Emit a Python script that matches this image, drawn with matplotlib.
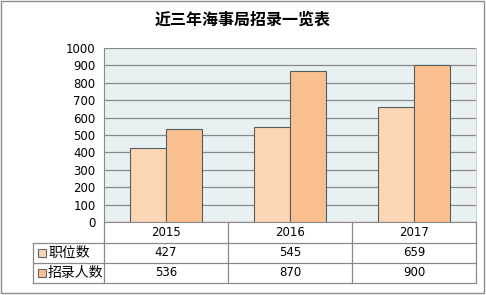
import matplotlib
matplotlib.use('Agg')
import matplotlib.pyplot as plt
from matplotlib.patches import Rectangle
from matplotlib.lines import Line2D
import numpy as np

plt.rcParams['font.family'] = ['Noto Sans CJK SC', 'DejaVu Sans']

title = '近三年海事局招录一览表'
years = ['2015', '2016', '2017']
series_names = ['职位数', '招录人数']
positions = [427, 545, 659]
hires = [536, 870, 900]
yticks = list(range(0, 1001, 100))

colors = ['#FCD5B5', '#FAC08F']
edge = '#4F5F60'

W, H = 486, 295
fig = plt.figure(figsize=(W / 100, H / 100), dpi=100)

def fx(px):
    return px / W

def fy(py):
    return 1 - py / H

# figure border
fig.add_artist(Rectangle((fx(1), fy(293)), fx(483), 292 / H, transform=fig.transFigure,
                         fill=False, edgecolor='#8C8C8C', lw=1))

# plot area
left, right, top, bottom = 104, 476, 48, 222
ax = fig.add_axes([fx(left), fy(bottom), fx(right - left), (bottom - top) / H])
ax.set_facecolor('#E9F0F2')
x = np.arange(len(years))
w = 0.29
ax.bar(x - w / 2, positions, w, color=colors[0], edgecolor=edge, lw=0.8, zorder=3)
ax.bar(x + w / 2, hires, w, color=colors[1], edgecolor=edge, lw=0.8, zorder=3)
ax.set_xlim(-0.5, len(years) - 0.5)
ax.set_ylim(0, 1000)
ax.set_yticks(yticks)
ax.set_yticklabels([str(v) for v in yticks], fontsize=8.5, family='DejaVu Sans')
ax.tick_params(axis='y', length=0, pad=6)
ax.set_xticks([])
ax.grid(axis='y', color='#8A8A8A', lw=0.9, zorder=1)
for s in ['top', 'right', 'left']:
    ax.spines[s].set_visible(False)
ax.spines['left'].set_visible(True)
ax.spines['left'].set_color('#8A8A8A')
ax.spines['bottom'].set_color('#8A8A8A')
ax.spines['right'].set_visible(True)
ax.spines['right'].set_color('#C8D4D8')

fig.text(0.5, fy(20), title, ha='center', va='center', fontsize=11.5, fontweight='bold')

# data table
col_edges = [left + i * (right - left) / len(years) for i in range(len(years) + 1)]
row_edges = [222, 243, 263, 283]
tbl_left = 33
lc = '#8A8A8A'

def hline(y, x0, x1):
    fig.add_artist(Line2D([fx(x0), fx(x1)], [fy(y), fy(y)], transform=fig.transFigure, color=lc, lw=0.9))

def vline(xp, y0, y1):
    fig.add_artist(Line2D([fx(xp), fx(xp)], [fy(y0), fy(y1)], transform=fig.transFigure, color=lc, lw=0.9))

hline(row_edges[1], tbl_left, right)
hline(row_edges[2], tbl_left, right)
hline(row_edges[3], tbl_left, right)
vline(tbl_left, row_edges[1], row_edges[3])
for c in col_edges:
    vline(c, row_edges[0], row_edges[3])

for i, yr in enumerate(years):
    cx = (col_edges[i] + col_edges[i + 1]) / 2
    fig.text(fx(cx), fy((row_edges[0] + row_edges[1]) / 2), yr, ha='center', va='center',
             fontsize=8.5, family='DejaVu Sans')
    fig.text(fx(cx), fy((row_edges[1] + row_edges[2]) / 2), str(positions[i]), ha='center', va='center',
             fontsize=8.5, family='DejaVu Sans')
    fig.text(fx(cx), fy((row_edges[2] + row_edges[3]) / 2), str(hires[i]), ha='center', va='center',
             fontsize=8.5, family='DejaVu Sans')

for r, name in enumerate(series_names):
    cy = (row_edges[r + 1] + row_edges[r + 2]) / 2
    fig.add_artist(Rectangle((fx(38), fy(cy + 4)), fx(8), 8 / H, transform=fig.transFigure,
                             facecolor=colors[r], edgecolor='#666666', lw=0.8))
    fig.text(fx(48), fy(cy), name, ha='left', va='center', fontsize=10)

fig.savefig('out.png', dpi=100)
